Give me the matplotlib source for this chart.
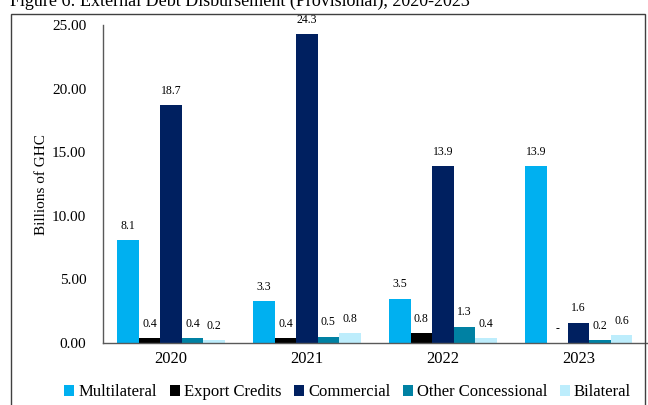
import numpy as np
import matplotlib.pyplot as plt
from matplotlib.patches import Rectangle

plt.rcParams['font.family'] = ['Liberation Serif', 'DejaVu Serif']

# Disbursements by creditor type, billions of GHC
years = ["2020", "2021", "2022", "2023"]
multilateral = [8.1, 3.3, 3.5, 13.9]
export_credits = [0.4, 0.4, 0.8, 0.0]
commercial = [18.7, 24.3, 13.9, 1.6]
other_concessional = [0.4, 0.5, 1.3, 0.2]
bilateral = [0.2, 0.8, 0.4, 0.6]

series = [
    ("Multilateral", multilateral, "#00B0F0"),
    ("Export Credits", export_credits, "#000000"),
    ("Commercial", commercial, "#002060"),
    ("Other Concessional", other_concessional, "#0081A3"),
    ("Bilateral", bilateral, "#BDEDFC"),
]

fig = plt.figure(figsize=(6.48, 4.05), dpi=100)
ax = fig.add_axes([0.159, 0.153, 0.839, 0.785])

x = np.arange(len(years))
w = 0.158
for k, (name, vals, col) in enumerate(series):
    pos = x + (k - 2) * w
    bars = ax.bar(pos, vals, width=w, color=col, label=name)
    for b, v in zip(bars, vals):
        txt = f"{v:.1f}" if v > 0 else "-"
        ax.text(b.get_x() + b.get_width() / 2, v + 0.65, txt,
                ha='center', va='bottom', fontsize=8.5)

ax.set_xlim(-0.5, 3.5)
ax.set_ylim(0, 25)
ax.set_yticks(np.arange(0, 26, 5))
ax.set_yticklabels([f"{t:.2f}" for t in np.arange(0, 26, 5)], fontsize=11)
ax.set_xticks(x)
ax.set_xticklabels(years, fontsize=12)
ax.tick_params(length=0)
ax.tick_params(axis='y', pad=12)
ax.tick_params(axis='x', pad=6)
ax.set_ylabel("Billions of GHC", fontsize=11, labelpad=3)
for s in ['top', 'right']:
    ax.spines[s].set_visible(False)
for s in ['left', 'bottom']:
    ax.spines[s].set_color('#595959')
    ax.spines[s].set_linewidth(1.0)

ax.legend(loc='center', bbox_to_anchor=(0.45, -0.155), ncol=5, frameon=False,
          prop={'family': 'Liberation Serif', 'size': 12},
          handlelength=0.6, handleheight=0.6, handletextpad=0.25,
          columnspacing=0.75, borderaxespad=0)

# frame around the chart and the caption above it
fig.patches.append(Rectangle((11 / 648, -0.05), 634 / 648, 0.05 + 391 / 405,
                             transform=fig.transFigure, fill=False,
                             edgecolor='#404040', linewidth=1.0))
fig.text(0.015, 0.985, "Figure 6: External Debt Disbursement (Provisional), 2020-2023",
         fontsize=13, va='baseline', ha='left')

fig.savefig("out.png", dpi=100)
